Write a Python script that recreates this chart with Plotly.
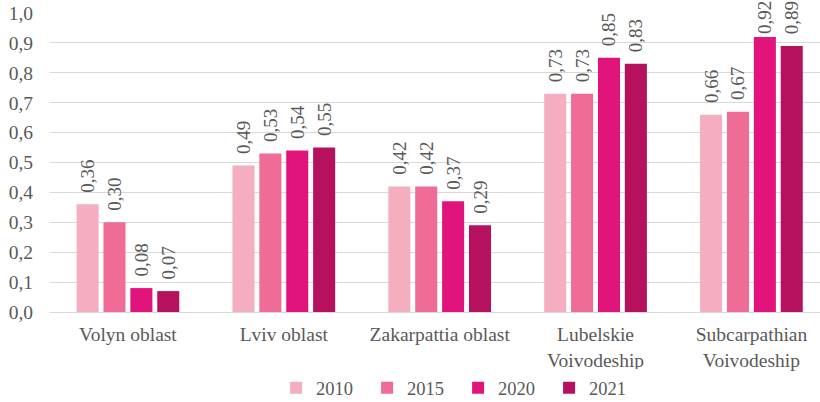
import plotly.graph_objects as go

categories = ["Volyn oblast", "Lviv oblast", "Zakarpattia oblast",
              "Lubelskie<br>Voivodeship", "Subcarpathian<br>Voivodeship"]
years = ["2010", "2015", "2020", "2021"]
v2010 = [0.36, 0.49, 0.42, 0.73, 0.66]
v2015 = [0.30, 0.53, 0.42, 0.73, 0.67]
v2020 = [0.08, 0.54, 0.37, 0.85, 0.92]
v2021 = [0.07, 0.55, 0.29, 0.83, 0.89]
series = [v2010, v2015, v2020, v2021]
colors = ["#F4AEC0", "#EE6C96", "#E0147A", "#B5115F"]
tick_vals = [0.0, 0.1, 0.2, 0.3, 0.4, 0.5, 0.6, 0.7, 0.8, 0.9, 1.0]
tick_text = ["0,0", "0,1", "0,2", "0,3", "0,4", "0,5", "0,6", "0,7", "0,8", "0,9", "1,0"]

font_family = "Liberation Serif"
grey = "#595959"


def label(v):
    # small leading gap above the bar; labels near the top of the chart sit closer
    pad = "" if v > 0.9 else "\u00a0\u2009"
    return pad + f"{v:.2f}".replace(".", ",")


fig = go.Figure()
for name, vals, col in zip(years, series, colors):
    fig.add_trace(go.Bar(
        x=categories, y=vals, name=name,
        marker=dict(color=col, line=dict(width=0)),
        text=[label(v) for v in vals],
        textposition="outside", textangle=-90,
        constraintext="none",
        textfont=dict(family=font_family, size=19, color=grey),
        cliponaxis=False,
    ))

fig.update_layout(
    width=820, height=402,
    margin=dict(l=50, r=0, t=13, b=90, autoexpand=False),
    paper_bgcolor="white", plot_bgcolor="white",
    barmode="group", bargap=0.31, bargroupgap=0.18,
    font=dict(family=font_family, size=19.5, color=grey),
    xaxis=dict(range=[-0.5, 4.44], showgrid=False, ticks="", automargin=False,
               showline=True, linecolor="#d9d9d9", linewidth=1,
               ticklabelstandoff=5,
               tickfont=dict(family=font_family, size=19.5, color=grey)),
    yaxis=dict(range=[0, 1.0], tickvals=tick_vals, ticktext=tick_text, automargin=False,
               showgrid=True, gridcolor="#d9d9d9", gridwidth=1,
               zeroline=False, ticks="", ticklabelstandoff=16,
               ticklabeloverflow="allow",
               tickfont=dict(family=font_family, size=19.5, color=grey)),
    legend=dict(orientation="h", x=0.53, xanchor="center", y=-0.255, yanchor="middle",
                font=dict(family=font_family, size=18.5, color=grey),
                entrywidth=46, itemwidth=30),
    showlegend=True,
)

fig.write_html("out.html", config={"displayModeBar": False},
               post_script="document.body.style.margin='0';document.body.style.overflow='hidden';")
